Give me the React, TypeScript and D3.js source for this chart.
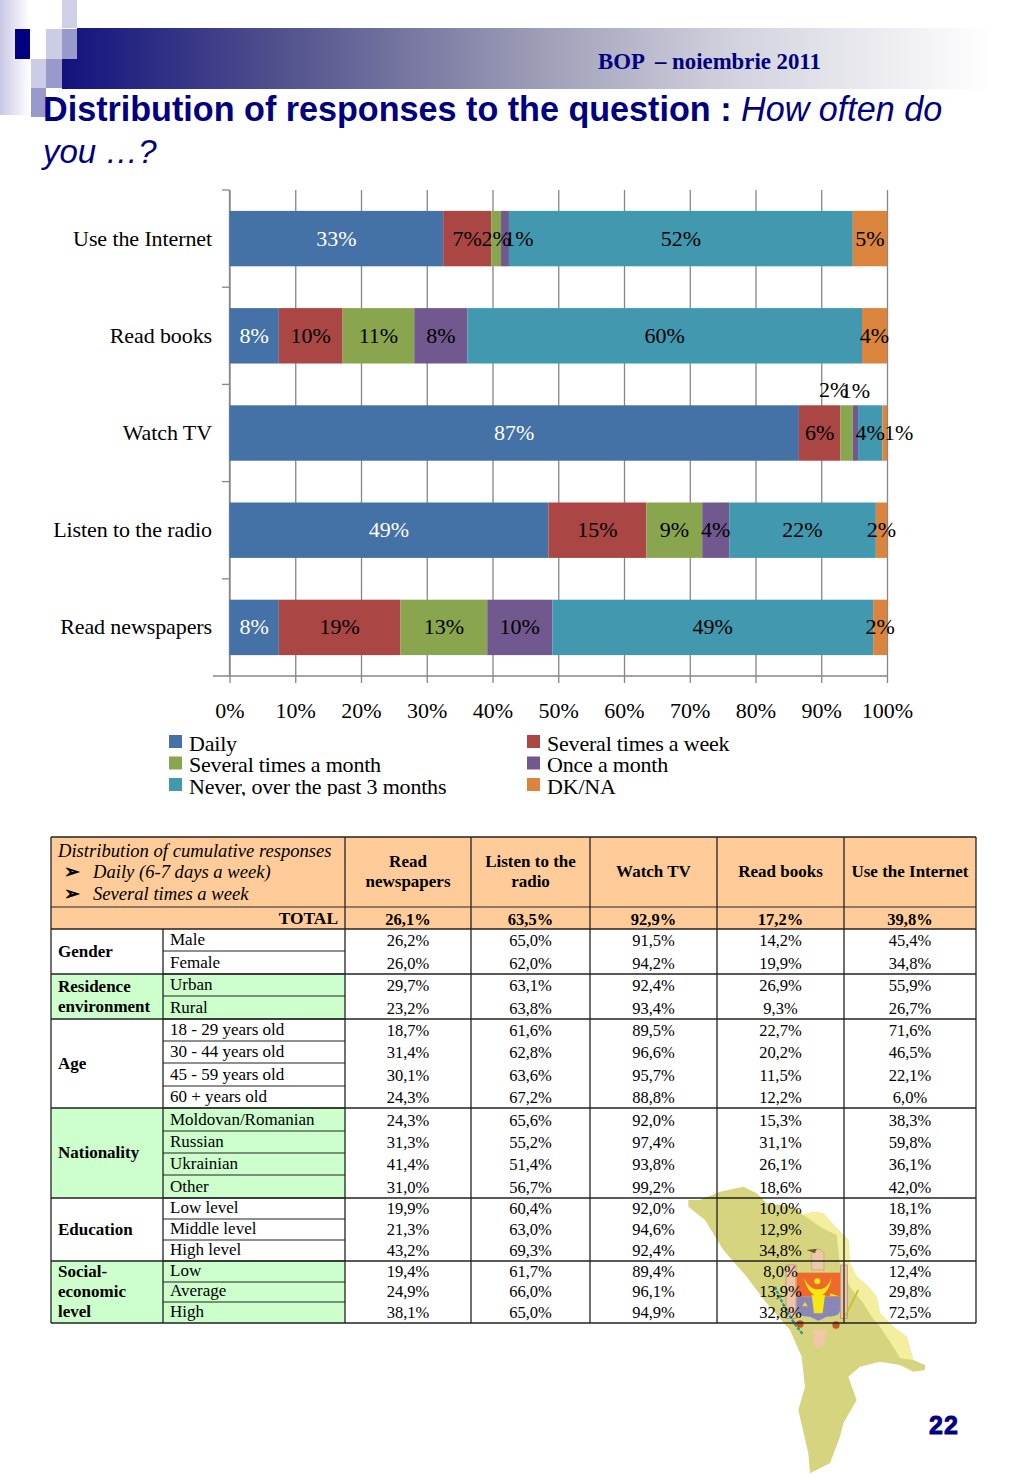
import React, { useEffect, useRef } from 'react';
import * as d3 from 'd3';

// bar chart data, share of answers in %
const categories = ['Use the Internet', 'Read books', 'Watch TV', 'Listen to the radio', 'Read newspapers'];
const seriesNames = ['Daily', 'Several times a week', 'Several times a month', 'Once a month', 'Never, over the past 3 months', 'DK/NA'];
const seriesColors = ['#4471a6', '#aa4643', '#89a54e', '#71588f', '#4198af', '#db843d'];
const daily = [32.5, 7.5, 86.6, 48.5, 7.5];
const severalWeek = [7.3, 9.7, 6.3, 14.9, 18.5];
const severalMonth = [1.5, 10.9, 1.9, 8.5, 13.2];
const onceMonth = [1.2, 8.1, 0.8, 4.1, 9.9];
const never = [52.3, 60.0, 3.7, 22.3, 48.8];
const dkna = [5.2, 3.8, 0.7, 1.7, 2.1];
const xTicks = [0, 10, 20, 30, 40, 50, 60, 70, 80, 90, 100];

// table data
const tableHeads = [['Read', 'newspapers'], ['Listen to the', 'radio'], ['Watch TV'], ['Read books'], ['Use the Internet']];
const totals = ['26,1%', '63,5%', '92,9%', '17,2%', '39,8%'];
const groups = [
  { name: ['Gender'], n: 2, green: false },
  { name: ['Residence', 'environment'], n: 2, green: true },
  { name: ['Age'], n: 4, green: false },
  { name: ['Nationality'], n: 4, green: true },
  { name: ['Education'], n: 3, green: false },
  { name: ['Social-', 'economic', 'level'], n: 3, green: true },
];
const rowLabels = ['Male', 'Female', 'Urban', 'Rural', '18 - 29 years old', '30 - 44 years old', '45 - 59 years old', '60 + years old', 'Moldovan/Romanian', 'Russian', 'Ukrainian', 'Other', 'Low level', 'Middle level', 'High level', 'Low', 'Average', 'High'];
const colNewspapers = ['26,2%', '26,0%', '29,7%', '23,2%', '18,7%', '31,4%', '30,1%', '24,3%', '24,3%', '31,3%', '41,4%', '31,0%', '19,9%', '21,3%', '43,2%', '19,4%', '24,9%', '38,1%'];
const colRadio = ['65,0%', '62,0%', '63,1%', '63,8%', '61,6%', '62,8%', '63,6%', '67,2%', '65,6%', '55,2%', '51,4%', '56,7%', '60,4%', '63,0%', '69,3%', '61,7%', '66,0%', '65,0%'];
const colTv = ['91,5%', '94,2%', '92,4%', '93,4%', '89,5%', '96,6%', '95,7%', '88,8%', '92,0%', '97,4%', '93,8%', '99,2%', '92,0%', '94,6%', '92,4%', '89,4%', '96,1%', '94,9%'];
const colBooks = ['14,2%', '19,9%', '26,9%', '9,3%', '22,7%', '20,2%', '11,5%', '12,2%', '15,3%', '31,1%', '26,1%', '18,6%', '10,0%', '12,9%', '34,8%', '8,0%', '13,9%', '32,8%'];
const colInternet = ['45,4%', '34,8%', '55,9%', '26,7%', '71,6%', '46,5%', '22,1%', '6,0%', '38,3%', '59,8%', '36,1%', '42,0%', '18,1%', '39,8%', '75,6%', '12,4%', '29,8%', '72,5%'];
const tableCols = [colNewspapers, colRadio, colTv, colBooks, colInternet];

const colX = [51, 163, 345, 471, 590, 717, 844, 976];
const rowY = [929, 951, 974, 996, 1019, 1041, 1063, 1086, 1108, 1131, 1153, 1175, 1198, 1219, 1240, 1261, 1282, 1302, 1323];

const SERIF = '"Liberation Serif", serif';
const SANS = '"Liberation Sans", sans-serif';
const NAVY = '#000080';

// labels Excel had dragged away from their segments
const labelNudge: Record<string, [number, number]> = {
  'Use the Internet|Once a month': [14, 0],
  'Watch TV|Several times a month': [-13, -43],
  'Watch TV|Once a month': [0, -42],
  'Watch TV|DK/NA': [14, 0],
};

// outline in zoomed map units, offset in the group transform
const mapOutline = [[25,90],[60,90],[120,65],[190,50],[230,70],[260,100],[340,110],[370,135],[400,125],[430,130],[470,175],[505,210],[510,280],[530,320],[560,345],[590,380],[600,430],[640,470],[680,500],[700,570],[735,585],[735,600],[700,605],[660,585],[600,575],[540,590],[505,620],[530,690],[490,760],[480,800],[450,880],[390,910],[385,850],[355,720],[375,650],[365,560],[330,480],[260,400],[200,320],[130,240],[75,150],[25,110]];
const mapEast = [[370,135],[400,125],[430,130],[470,175],[505,210],[510,280],[530,320],[560,345],[590,380],[600,430],[640,470],[680,500],[700,570],[660,565],[640,530],[600,470],[575,440],[550,400],[510,350],[480,290],[470,195],[420,170]];

const Chart: React.FC = () => {
  const ref = useRef<SVGGElement>(null);

  useEffect(() => {
    if (!ref.current) return;
    const g = d3.select(ref.current);
    g.selectAll('*').remove();

    const x = d3.scaleLinear().domain([0, 100]).range([229.5, 887]);
    const y = d3.scaleBand().domain(categories).range([190, 676]).paddingInner(0.43).paddingOuter(0.215);
    const step = y.step();

    const rows = categories.map((c, i) => ({
      cat: c,
      [seriesNames[0]]: daily[i],
      [seriesNames[1]]: severalWeek[i],
      [seriesNames[2]]: severalMonth[i],
      [seriesNames[3]]: onceMonth[i],
      [seriesNames[4]]: never[i],
      [seriesNames[5]]: dkna[i],
    }));
    const stacked = d3.stack<any>().keys(seriesNames)(rows);

    // gridlines sit under the bars
    g.append('g')
      .attr('transform', 'translate(0,676)')
      .call(d3.axisBottom(x).tickValues(xTicks).tickSize(7).tickFormat(d => `${d}%`))
      .call(a => a.select('.domain').remove())
      .call(a => a.selectAll('.tick line').attr('y1', -486).attr('stroke', '#868686').attr('stroke-width', 1.3))
      .call(a => a.selectAll('.tick text').attr('y', 42).attr('dy', 0).attr('fill', '#000').style('font', `22px ${SERIF}`));

    g.append('line').attr('x1', 213).attr('x2', 887).attr('y1', 676).attr('y2', 676).attr('stroke', '#868686').attr('stroke-width', 1.3);
    g.append('line').attr('x1', x(0)).attr('x2', x(0)).attr('y1', 190).attr('y2', 676).attr('stroke', '#868686').attr('stroke-width', 1.3);
    d3.range(categories.length).forEach(i => {
      g.append('line').attr('x1', 222).attr('x2', x(0))
        .attr('y1', 190 + i * step).attr('y2', 190 + i * step)
        .attr('stroke', '#868686').attr('stroke-width', 1.3);
    });

    g.append('g')
      .attr('transform', 'translate(212,0)')
      .call(d3.axisLeft(y).tickSize(0).tickPadding(0))
      .call(a => a.select('.domain').remove())
      .call(a => a.selectAll('.tick text').attr('fill', '#000').style('font', `22px ${SERIF}`).style('letter-spacing', '-0.1px'));

    stacked.forEach((layer, si) => {
      g.append('g').selectAll('rect').data(layer).enter().append('rect')
        .attr('x', d => x(d[0]))
        .attr('y', d => y(d.data.cat) as number)
        .attr('width', d => x(d[1]) - x(d[0]))
        .attr('height', y.bandwidth())
        .attr('fill', seriesColors[si]);
    });

    stacked.forEach((layer, si) => {
      g.append('g').selectAll('text').data(layer).enter().append('text')
        .attr('x', d => (x(d[0]) + x(d[1])) / 2 + (labelNudge[`${d.data.cat}|${seriesNames[si]}`]?.[0] ?? 0))
        .attr('y', d => (y(d.data.cat) as number) + y.bandwidth() / 2 + 7 + (labelNudge[`${d.data.cat}|${seriesNames[si]}`]?.[1] ?? 0))
        .attr('text-anchor', 'middle')
        .attr('fill', si === 0 ? '#fff' : '#000')
        .style('font', `22px ${SERIF}`)
        .text(d => `${Math.round(d[1] - d[0])}%`);
    });

    // legend, two columns, the last row is cut off by the pasted picture
    const legend = g.append('g').attr('clip-path', 'url(#legendClip)');
    seriesNames.forEach((name, i) => {
      const lx = i % 2 === 0 ? 169 : 527;
      const ly = 735 + Math.floor(i / 2) * 21.5;
      legend.append('rect').attr('x', lx).attr('y', ly).attr('width', 13).attr('height', 13).attr('fill', seriesColors[i]);
      legend.append('text').attr('x', lx + 20).attr('y', ly + 15.5).attr('fill', '#000')
        .style('font', `22px ${SERIF}`).style('letter-spacing', '-0.2px').text(name);
    });
  }, []);

  return <g ref={ref} />;
};

const Table: React.FC = () => {
  const lines: React.ReactNode[] = [];
  const line = '#222';
  let r = 0;
  const cells = groups.map((gr, gi) => {
    const top = rowY[r];
    const bottom = rowY[r + gr.n];
    const mid = (top + bottom) / 2;
    const res = (
      <g key={gi}>
        {gr.green && <rect x={colX[0]} y={top} width={colX[2] - colX[0]} height={bottom - top} fill="#ccffcc" />}
        {gr.name.map((t, k) => (
          <text key={k} x={58} y={mid + 5 + (k - (gr.name.length - 1) / 2) * 20} fontFamily={SERIF} fontSize={17} fontWeight="bold">{t}</text>
        ))}
      </g>
    );
    r += gr.n;
    lines.push(<line key={'g' + gi} x1={colX[0]} x2={colX[7]} y1={bottom} y2={bottom} stroke={line} strokeWidth={1.3} />);
    return res;
  });

  return (
    <g>
      <rect x={colX[0]} y={837} width={colX[7] - colX[0]} height={92} fill="#ffcc99" />
      {cells}
      <text fontFamily={SERIF} fontSize={18.6} fontStyle="italic">
        <tspan x={58} y={857}>Distribution of cumulative responses</tspan>
        <tspan x={93} y={878}>Daily (6-7 days a week)</tspan>
        <tspan x={93} y={900}>Several times a week</tspan>
      </text>
      <text x={64} y={878} fontFamily="DejaVu Sans" fontSize={19} stroke="#000" strokeWidth={0.7}>➢</text>
      <text x={64} y={900} fontFamily="DejaVu Sans" fontSize={19} stroke="#000" strokeWidth={0.7}>➢</text>
      <text x={338} y={924} textAnchor="end" fontFamily={SERIF} fontSize={17.4} fontWeight="bold">TOTAL</text>
      {tableHeads.map((h, i) => {
        const cx = (colX[i + 2] + colX[i + 3]) / 2;
        return (
          <g key={i}>
            {h.map((t, k) => (
              <text key={k} x={cx} y={877 + (k - (h.length - 1) / 2) * 20} textAnchor="middle" fontFamily={SERIF} fontSize={17} fontWeight="bold">{t}</text>
            ))}
            <text x={cx} y={925} textAnchor="middle" fontFamily={SERIF} fontSize={16.5} fontWeight="bold">{totals[i]}</text>
          </g>
        );
      })}
      {rowLabels.map((t, i) => (
        <g key={i}>
          <text x={170} y={rowY[i + 1] - 6} fontFamily={SERIF} fontSize={17}>{t}</text>
          {i + 1 < rowLabels.length && <line x1={colX[1]} x2={colX[2]} y1={rowY[i + 1]} y2={rowY[i + 1]} stroke={line} strokeWidth={1.2} />}
          {tableCols.map((col, c) => (
            <text key={c} x={(colX[c + 2] + colX[c + 3]) / 2} y={rowY[i + 1] - 5} textAnchor="middle" fontFamily={SERIF} fontSize={16.5}>{col[i]}</text>
          ))}
        </g>
      ))}
      {lines}
      <line x1={colX[0]} x2={colX[7]} y1={837} y2={837} stroke={line} strokeWidth={1.3} />
      <line x1={colX[0]} x2={colX[7]} y1={907} y2={907} stroke={line} strokeWidth={1.2} />
      <line x1={colX[0]} x2={colX[7]} y1={929} y2={929} stroke={line} strokeWidth={1.3} />
      {colX.map((cx, i) => (
        <line key={i} x1={cx} x2={cx} y1={i === 1 ? 929 : 837} y2={1323} stroke={line} strokeWidth={1.3} />
      ))}
    </g>
  );
};

const pts = (p: number[][]) => d3.line()(p as [number, number][]) + 'Z';

const MapBackdrop: React.FC = () => (
  <g transform="translate(680,1170) scale(0.3333)">
    <path d={pts(mapOutline)} fill="#d6d47f" />
    <path d={pts(mapEast)} fill="#f3ef9e" />
    {/* coat of arms */}
    <path d="M395,300 L395,250 Q415,225 432,250 L432,300 Z" fill="#eec9a8" stroke="#b89a80" strokeWidth={2} />
    <path d="M380,240 L410,236 L405,250 Z" fill="#6a5a30" />
    <rect x={318} y={285} width={30} height={160} fill="#eec5a5" stroke="#a88" strokeWidth={2} />
    <rect x={482} y={285} width={20} height={160} fill="#eec5a5" stroke="#a88" strokeWidth={2} />
    <rect x={350} y={308} width={130} height={72} fill="#ee6a2a" />
    <path d="M350,380 L480,380 L480,420 Q480,440 440,440 L415,452 L390,440 Q350,440 350,420 Z" fill="#8a86b8" />
    <path d="M372,325 Q385,375 415,378 Q445,375 455,325 Q440,360 415,358 Q390,360 372,325 Z" fill="#f6e614" />
    <path d="M395,375 L435,375 L428,430 L402,430 Z" fill="#f6e614" />
    <path d="M375,395 l8,16 l-16,-8 h16 l-16,8 Z" fill="#f6e614" />
    <circle cx={412} cy={334} r={9} fill="#f6e614" />
    <path d="M450,370 l25,8 l-25,0 Z" fill="#f6e614" />
    <path d="M285,350 Q310,410 350,470 L368,492" fill="none" stroke="#2a9a80" strokeWidth={7} strokeDasharray="10 4" />
    <path d="M535,360 Q515,400 495,440" fill="none" stroke="#c8c020" strokeWidth={5} />
    <circle cx={360} cy={462} r={11} fill="#c05a20" />
    <circle cx={468} cy={465} r={11} fill="#c05a20" />
    <path d="M398,478 L440,478 L432,525 L412,535 L402,520 Z" fill="#f0c8a8" />
  </g>
);

export default function App() {
  return (
    <svg width={1024} height={1479} viewBox="0 0 1024 1479" style={{ position: 'absolute', left: 0, top: 0, display: 'block', background: '#fff' }}>
      <defs>
        <linearGradient id="band" gradientUnits="userSpaceOnUse" x1="62" x2="992" y1="0" y2="0">
          <stop offset="0" stopColor="#12127e" />
          <stop offset="0.25" stopColor="#55558f" />
          <stop offset="0.5" stopColor="#9a9ab5" />
          <stop offset="0.72" stopColor="#d2d2de" />
          <stop offset="1" stopColor="#ffffff" />
        </linearGradient>
        <linearGradient id="side" x1="0" x2="1" y1="0" y2="0">
          <stop offset="0" stopColor="#c9c9e6" />
          <stop offset="1" stopColor="#ffffff" />
        </linearGradient>
        <clipPath id="legendClip"><rect x={150} y={725} width={700} height={71} /></clipPath>
      </defs>

      {/* slide template decoration */}
      <rect x={0} y={0} width={30} height={115} fill="url(#side)" />
      <rect x={62} y={59} width={930} height={30} fill="url(#band)" />
      <rect x={77} y={28} width={915} height={31} fill="url(#band)" />
      <rect x={62} y={0} width={15} height={28} fill="#cfcfe8" />
      <rect x={15} y={29} width={15} height={30} fill="#000080" />
      <rect x={46} y={29} width={16} height={30} fill="#ccccE6" />
      <rect x={62} y={29} width={15} height={30} fill="#9999cc" />
      <rect x={31} y={59} width={15} height={29} fill="#cccce6" />
      <rect x={46} y={59} width={16} height={29} fill="#9999cc" />
      <rect x={31} y={88} width={15} height={29} fill="#9999cc" />

      <text x={598} y={69} fontFamily={SERIF} fontSize={22.8} fontWeight="bold" fill={NAVY} xmlSpace="preserve">BOP  – noiembrie 2011</text>
      <text fontFamily={SANS} fontSize={34.15} fill={NAVY}>
        <tspan x={43} y={121} fontWeight="bold">Distribution of responses to the question : </tspan>
        <tspan fontStyle="italic">How often do</tspan>
        <tspan x={43} y={163} fontStyle="italic" fontSize={33}>you …?</tspan>
      </text>

      <MapBackdrop />
      <Chart />
      <Table />

      <text x={929} y={1434} fontFamily={SANS} fontSize={25} fontWeight="bold" fill={NAVY} stroke={NAVY} strokeWidth={0.9} letterSpacing={1}>22</text>
    </svg>
  );
}
